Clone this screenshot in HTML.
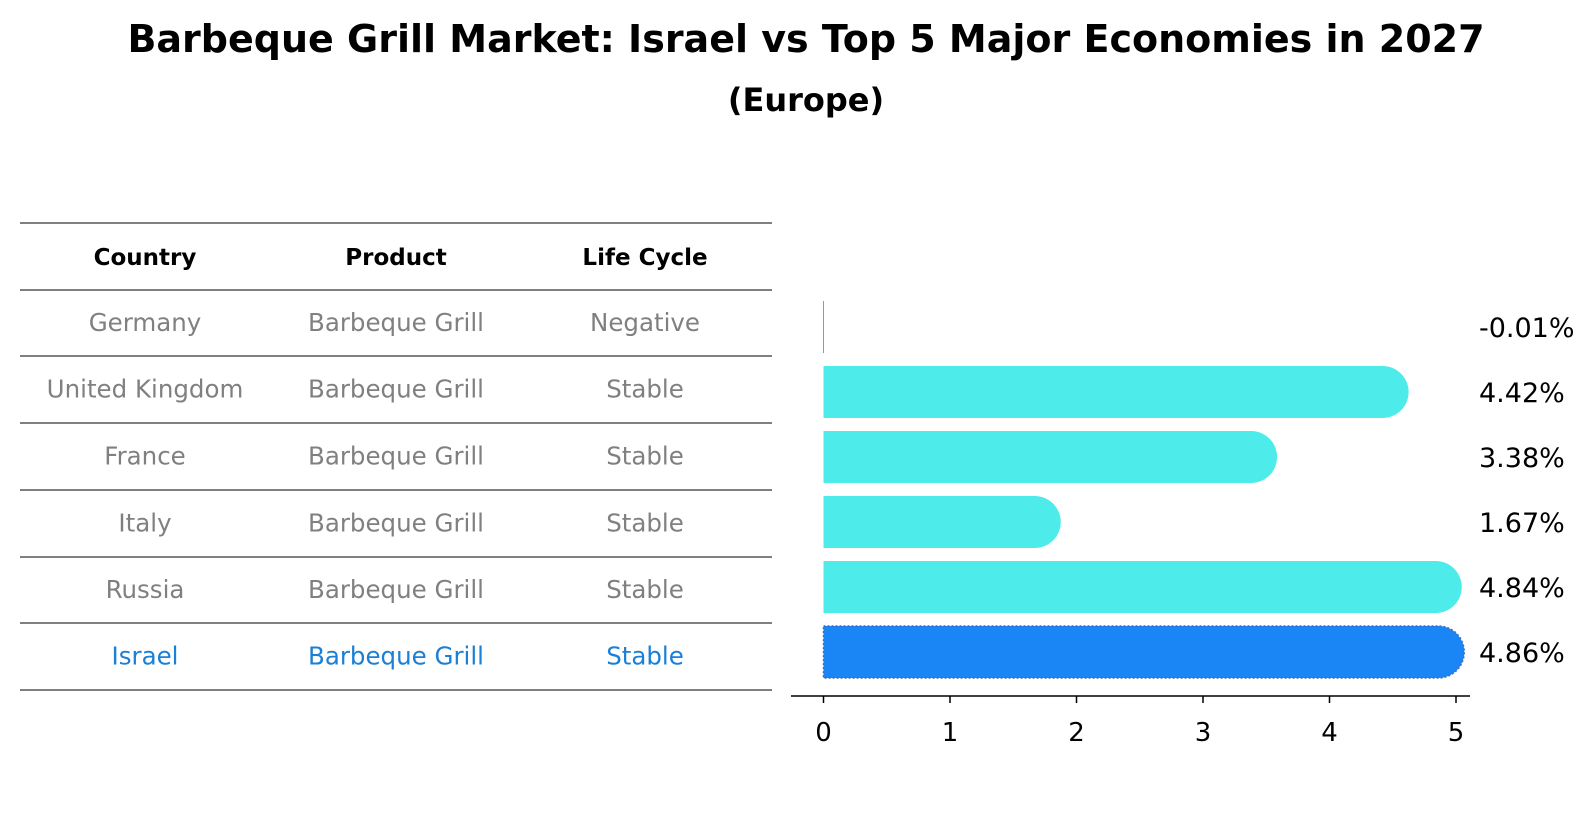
<!DOCTYPE html>
<html><head><meta charset="utf-8"><style>
body{margin:0;background:#fff;}
svg{display:block;font-family:"DejaVu Sans","Liberation Sans",sans-serif;}
</style></head><body>
<svg id="chart" width="1596" height="823" viewBox="0 0 1596 823">
<text x="806" y="52" text-anchor="middle" font-size="38" font-weight="bold">Barbeque Grill Market: Israel vs Top 5 Major Economies in 2027</text>
<text x="806" y="111" text-anchor="middle" font-size="32" font-weight="bold">(Europe)</text>
<g id="table"></g>
<g id="bars"></g>
</svg>
<script>
const countries=["Germany","United Kingdom","France","Italy","Russia","Israel"];
const products=["Barbeque Grill","Barbeque Grill","Barbeque Grill","Barbeque Grill","Barbeque Grill","Barbeque Grill"];
const lifeCycles=["Negative","Stable","Stable","Stable","Stable","Stable"];
const values=[-0.01,4.42,3.38,1.67,4.84,4.86];
const tickValues=[0,1,2,3,4,5];
const NS="http://www.w3.org/2000/svg";
function mk(tag,attrs,parent,txt){const e=document.createElementNS(NS,tag);for(const k in attrs)e.setAttribute(k,attrs[k]);if(txt!==undefined)e.textContent=txt;parent.appendChild(e);return e;}
const table=document.getElementById('table');
const lineYs=[223,290,356,423,490,557,623,690];
lineYs.forEach((y)=>{const l=mk('line',{x1:20,x2:772,y1:y,y2:y,stroke:'#000','stroke-width':1},table);

});
const colX=[145,396,645];
["Country","Product","Life Cycle"].forEach((h,i)=>{const t=mk('text',{x:colX[i],y:265,'text-anchor':'middle','font-size':23,'font-weight':'bold'},table,h);

});
countries.forEach((c,r)=>{const y=(lineYs[r+1]+lineYs[r+2])/2+8;const col=r===countries.length-1?'#1a7fd6':'#808080';
[c,products[r],lifeCycles[r]].forEach((v,i)=>{const t=mk('text',{x:colX[i],y:y,'text-anchor':'middle','font-size':24.5,fill:col},table,v);

});});
const bars=document.getElementById('bars');
const x0=823.5,pxPerUnit=126.5;
const xs=v=>x0+v*pxPerUnit;
const yc=i=>327+i*65;
const bh=52,r=26;
values.forEach((v,i)=>{const last=i===values.length-1;let el;
if(v<=0){el=mk('rect',{x:x0-0.5,y:yc(i)-bh/2,width:1,height:bh,fill:'#3bc0c0'},bars);}
else{const xe=xs(v);const top=yc(i)-bh/2,bot=yc(i)+bh/2;
el=mk('path',{d:`M${x0},${top} L${xe},${top} A${r},${r} 0 0 1 ${xe},${bot} L${x0},${bot} Z`,fill:last?'#1a85f5':'#4deceb',stroke:last?'#3a6fc0':'none','stroke-width':last?1.5:0,'stroke-dasharray':last?'2,2':''},bars);}


const t=mk('text',{x:1479,y:yc(i)+10,'font-size':27},bars,v.toFixed(2)+'%');

});
const ax=mk('line',{x1:791,x2:1470,y1:696,y2:696,stroke:'#000','stroke-width':1.5},bars);


tickValues.forEach(v=>{const tk=mk('line',{x1:xs(v),x2:xs(v),y1:696,y2:703,stroke:'#000','stroke-width':1.5},bars);


const t=mk('text',{x:xs(v),y:741,'text-anchor':'middle','font-size':26},bars,String(v));

});
</script>
</body></html>
